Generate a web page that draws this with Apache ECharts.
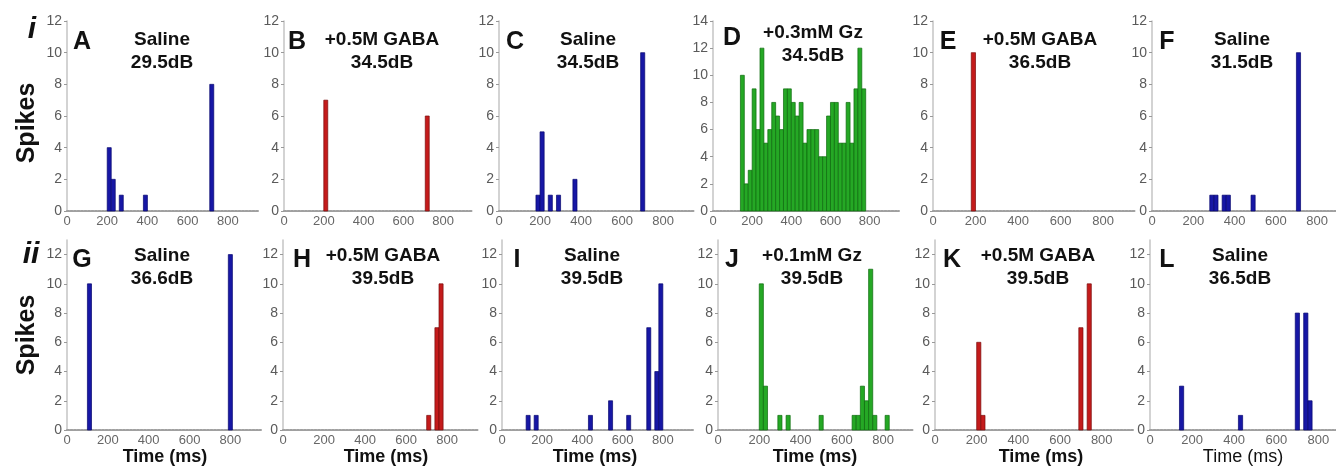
<!DOCTYPE html>
<html>
<head>
<meta charset="utf-8">
<script src="https://cdn.jsdelivr.net/npm/echarts@6/dist/echarts.min.js"></script>
<style>
html,body{margin:0;padding:0;background:#fff;}
#main{width:1336px;height:470px;}
</style>
</head>
<body>
<div id="main"></div>
<script>
// PSTH data: bin start (ms) and spike count, 20 ms bins
var timesA = [200, 220, 260, 380, 710];
var spikesA = [4, 2, 1, 1, 8];
var timesB = [200, 710];
var spikesB = [7, 6];
var timesC = [180, 200, 240, 280, 360, 690];
var spikesC = [1, 5, 1, 1, 2, 10];
var timesD = [140, 160, 180, 200, 220, 240, 260, 280, 300, 320, 340, 360, 380, 400, 420, 440,
              460, 480, 500, 520, 540, 560, 580, 600, 620, 640, 660, 680, 700, 720, 740, 760];
var spikesD = [10, 2, 3, 9, 6, 12, 5, 6, 8, 7, 6, 9, 9, 8, 7, 8,
               5, 6, 6, 6, 4, 4, 7, 8, 8, 5, 5, 8, 5, 9, 12, 9];
var timesE = [180];
var spikesE = [10];
var timesF = [280, 300, 340, 360, 480, 700];
var spikesF = [1, 1, 1, 1, 1, 10];
var timesG = [100, 790];
var spikesG = [10, 12];
var timesH = [700, 740, 760];
var spikesH = [1, 7, 10];
var timesI = [120, 160, 430, 530, 620, 720, 760, 780];
var spikesI = [1, 1, 1, 2, 1, 7, 4, 10];
var timesJ = [200, 220, 290, 330, 490, 650, 670, 690, 710, 730, 750, 810];
var spikesJ = [10, 3, 1, 1, 1, 1, 1, 3, 2, 11, 1, 1];
var timesK = [200, 220, 690, 730];
var spikesK = [6, 1, 7, 10];
var timesL = [140, 420, 690, 730, 750];
var spikesL = [3, 1, 8, 8, 2];

var panelLetters = ['A','B','C','D','E','F','G','H','I','J','K','L'];
var panelDrug = ['Saline','+0.5M GABA','Saline','+0.3mM Gz','+0.5M GABA','Saline',
                 'Saline','+0.5M GABA','Saline','+0.1mM Gz','+0.5M GABA','Saline'];
var panelLevel = ['29.5dB','34.5dB','34.5dB','34.5dB','36.5dB','31.5dB',
                  '36.6dB','39.5dB','39.5dB','39.5dB','39.5dB','36.5dB'];
var xTicks = [0, 200, 400, 600, 800];
var yTicks12 = [0, 2, 4, 6, 8, 10, 12];
var yTicks14 = [0, 2, 4, 6, 8, 10, 12, 14];

(function(){
	var allTimes = [timesA,timesB,timesC,timesD,timesE,timesF,timesG,timesH,timesI,timesJ,timesK,timesL];
	var allSpikes = [spikesA,spikesB,spikesC,spikesD,spikesE,spikesF,spikesG,spikesH,spikesI,spikesJ,spikesK,spikesL];
	var kind = ['s','g','s','z','g','s','s','g','s','z','g','s'];

	var BIN = 20;
	var fills = {s: '#1717a5', g: '#c41b1b', z: '#25a825'};
	var edges = {s: '#06066e', g: '#7a0b0b', z: '#0d6a0d'};

	// layout
	var lefts = [67, 284, 499, 713, 933, 1152, 67, 283, 502, 718, 935, 1150];
	var widths = [191, 189, 195, 186, 202, 196, 194, 195, 191, 196, 198, 200];
	var titleX = [162, 382, 588, 813, 1040, 1242, 162, 383, 592, 812, 1038, 1240];
	var letterX = [82, 297, 515, 732, 948, 1167, 82, 302, 517, 732, 952, 1167];

	var myChart = echarts.init(document.getElementById('main'));

	var grids = [], xAxes = [], yAxes = [], series = [], graphics = [];
	var font = '"Liberation Sans", Arial, Helvetica, sans-serif';

	function txt(x, y, text, size, weight, extra){
		var el = {
			type: 'text', x: x, y: y, z: 100,
			style: {
				text: text, fill: '#111',
				font: (extra && extra.italic ? 'italic ' : '') + weight + ' ' + size + 'px ' + font,
				align: 'center', verticalAlign: 'middle',
				textAlign: 'center', textVerticalAlign: 'middle'
			}
		};
		if (extra && extra.rotation) el.rotation = extra.rotation;
		return el;
	}

	for (var i = 0; i < 12; i++) {
		var isTop = i < 6;
		var ymax = i === 3 ? 14 : (isTop ? 12 : 13);
		grids.push({
			left: lefts[i], width: widths[i],
			top: isTop ? 21 : 240, height: 190,
			outerBoundsMode: 'none'
		});
		xAxes.push({
			type: 'value', gridIndex: i, min: 0, max: 950,
			axisLine: {show: true, lineStyle: {color: '#a0a0a0', width: 2, type: [2, 1.5]}},
			axisTick: {show: false},
			splitLine: {show: false},
			axisLabel: {customValues: xTicks, color: '#666', fontSize: 13, margin: 4, fontFamily: font}
		});
		yAxes.push({
			type: 'value', gridIndex: i, min: 0, max: ymax,
			axisLine: {show: true, lineStyle: {color: '#c4c4c4', width: 1.5}},
			axisTick: {show: true, length: 3, customValues: i === 3 ? yTicks14 : yTicks12, lineStyle: {color: '#999'}},
			splitLine: {show: false},
			axisLabel: {customValues: i === 3 ? yTicks14 : yTicks12, color: '#5a5a5a', fontSize: 14, margin: 5, fontFamily: font}
		});
		var pts = [];
		for (var k = 0; k < allTimes[i].length; k++) pts.push([allTimes[i][k], allSpikes[i][k]]);
		(function(edge){
			series.push({
				type: 'custom', xAxisIndex: i, yAxisIndex: i,
				itemStyle: {color: fills[kind[i]]},
				data: pts,
				renderItem: function(params, api){
					var a = api.coord([api.value(0), api.value(1)]);
					var b = api.coord([api.value(0) + BIN, 0]);
					return {
						type: 'rect',
						shape: {x: a[0], y: a[1], width: b[0] - a[0], height: b[1] - a[1]},
						style: api.style({stroke: edge, lineWidth: 0.7})
					};
				}
			});
		})(edges[kind[i]]);

		var y1 = isTop ? (i === 3 ? 33 : 40) : 256;
		graphics.push(txt(titleX[i], y1, panelDrug[i], 19, 'bold'));
		graphics.push(txt(titleX[i], y1 + 23, panelLevel[i], 19, 'bold'));
		graphics.push(txt(letterX[i], isTop ? (i === 3 ? 38 : 42) : 260, panelLetters[i], 25, 'bold'));
		if (!isTop) {
			graphics.push(txt(titleX[i] + 3, 457, 'Time (ms)', 18, i === 11 ? 'normal' : 'bold'));
		}
	}

	graphics.push(txt(32, 30, 'i', 30, 'bold', {italic: true}));
	graphics.push(txt(31, 255, 'ii', 30, 'bold', {italic: true}));
	graphics.push(txt(27, 123, 'Spikes', 25, 'bold', {rotation: Math.PI / 2}));
	graphics.push(txt(27, 335, 'Spikes', 25, 'bold', {rotation: Math.PI / 2}));

	var option = {
		backgroundColor: '#fff',
		animation: false,
		grid: grids,
		xAxis: xAxes,
		yAxis: yAxes,
		series: series,
		graphic: {elements: graphics}
	};

	myChart.setOption(option);
})();
</script>
</body>
</html>
